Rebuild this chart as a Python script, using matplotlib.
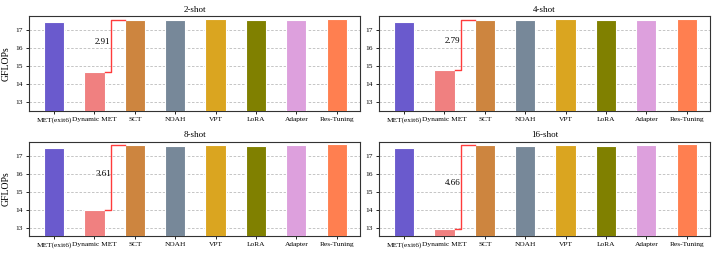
import matplotlib.pyplot as plt
import numpy as np

plt.rcParams['font.family'] = ['Liberation Serif', 'DejaVu Serif']

# Data
methods = ['MET(exit6)', 'Dynamic MET', 'SCT', 'NOAH', 'VPT', 'LoRA', 'Adapter', 'Res-Tuning']
colors = ['#6A5ACD', '#F08080', '#CD853F', '#778899', '#DAA520', '#808000', '#DDA0DD', '#FF7F50']
shots = ['2-shot', '4-shot', '8-shot', '16-shot']

## GFLOPs of the static methods (same in every shot setting)
met_exit6 = 17.45
sct = 17.60
noah = 17.58
vpt = 17.63
lora = 17.58
adapter = 17.60
res_tuning = 17.66

## Dynamic MET per shot setting
dynamic_met = [14.69, 14.81, 13.99, 12.94]
savings = ['2.91', '2.79', '3.61', '4.66']

fig, axes = plt.subplots(2, 2, figsize=(7.18, 2.56), dpi=100)
fig.subplots_adjust(left=0.0404, right=0.989, top=0.937, bottom=0.078, wspace=0.057, hspace=0.33)

x = np.arange(len(methods))
for i, ax in enumerate(axes.flat):
    vals = [met_exit6, dynamic_met[i], sct, noah, vpt, lora, adapter, res_tuning]
    ax.bar(x, vals, width=0.5, color=colors, edgecolor='white', linewidth=0.8, zorder=3)

    # red step showing the saving vs SCT
    lo, hi = dynamic_met[i], sct
    ax.plot([1.25, 1.42, 1.42, 1.75], [lo, lo, hi, hi], color='#FF3B3B', lw=1.0, zorder=4)
    ax.text(1.21, (lo + hi) / 2 + 0.2, savings[i], ha='center', va='center', fontsize=6.5)

    ax.set_ylim(12.53, 17.8)
    ax.set_xlim(-0.62, 7.58)
    ax.set_yticks([13, 14, 15, 16, 17])
    ax.set_xticks(x)
    ax.set_xticklabels(methods)
    ax.tick_params(axis='both', labelsize=5.3, length=2.5, width=0.6, pad=2)
    ax.grid(axis='y', linestyle=(0, (3, 2)), color='#BBBBBB', linewidth=0.6, zorder=0)
    ax.set_title(shots[i], fontsize=6.5, pad=3)
    for s in ax.spines.values():
        s.set_color('#333333')
        s.set_linewidth(0.8)
    if i % 2 == 0:
        ax.set_ylabel('GFLOPs', fontsize=7, labelpad=3)

fig.savefig('out.png')
